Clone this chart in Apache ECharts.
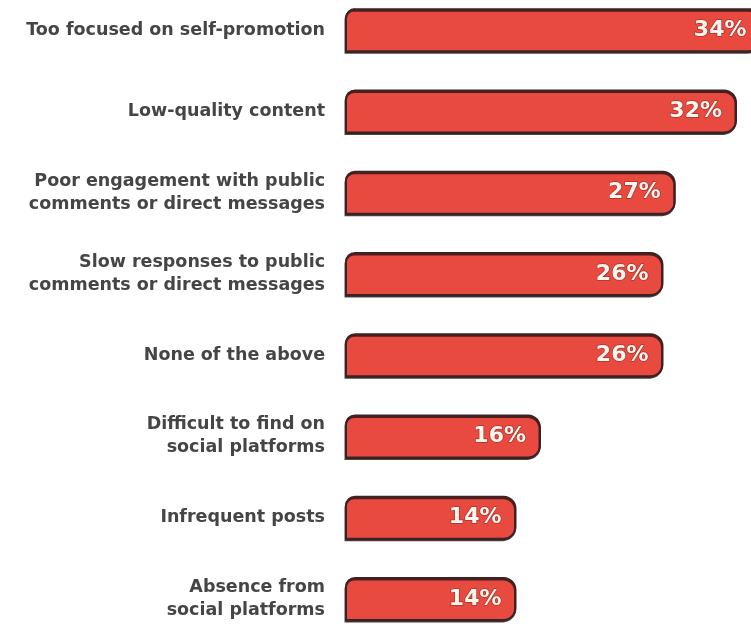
<!DOCTYPE html>
<html><head><meta charset="utf-8">
<script src="https://cdn.jsdelivr.net/npm/echarts@6/dist/echarts.min.js"></script>
<style>html,body{margin:0;padding:0;background:#fff}#c{width:751px;height:624px}</style>
</head><body><div id="c"></div>
<script>
const categories = [
  "Too focused on self-promotion",
  "Low-quality content",
  "Poor engagement with public\ncomments or direct messages",
  "Slow responses to public\ncomments or direct messages",
  "None of the above",
  "Difficult to find on\nsocial platforms",
  "Infrequent posts",
  "Absence from\nsocial platforms"
];
const values = [34, 32, 27, 26, 26, 16, 14, 14];

const chart = echarts.init(document.getElementById('c'));
chart.setOption({
  animation: false,
  backgroundColor: '#ffffff',
  grid: { left: 345, top: -10.5, width: 490, height: 650, containLabel: false, outerBoundsMode: 'none' },
  xAxis: { type: 'value', min: 0, max: 40, show: false },
  yAxis: {
    type: 'category', data: categories, inverse: true,
    axisLine: { show: false }, axisTick: { show: false }, splitLine: { show: false },
    axisLabel: {
      margin: 20, color: '#454545', fontFamily: 'DejaVu Sans', fontWeight: 'bold',
      fontSize: 17.5, lineHeight: 23, align: 'right'
    }
  },
  series: [{
    type: 'bar', data: values, barWidth: 44,
    itemStyle: {
      color: '#e84a40', borderColor: '#3b2226', borderWidth: 2,
      borderRadius: [9, 12, 12, 0],
      shadowColor: 'rgba(40,20,20,0.8)', shadowOffsetY: 1.5, shadowOffsetX: -0.5, shadowBlur: 0
    },
    label: {
      show: true, position: 'insideRight', distance: 15,
      formatter: '{c}%', color: '#fff6f0', fontFamily: 'DejaVu Sans', fontWeight: 'bold',
      fontSize: 22, textBorderColor: 'rgba(120,35,30,0.55)', textBorderWidth: 1.5
    }
  }]
});
</script></body></html>
